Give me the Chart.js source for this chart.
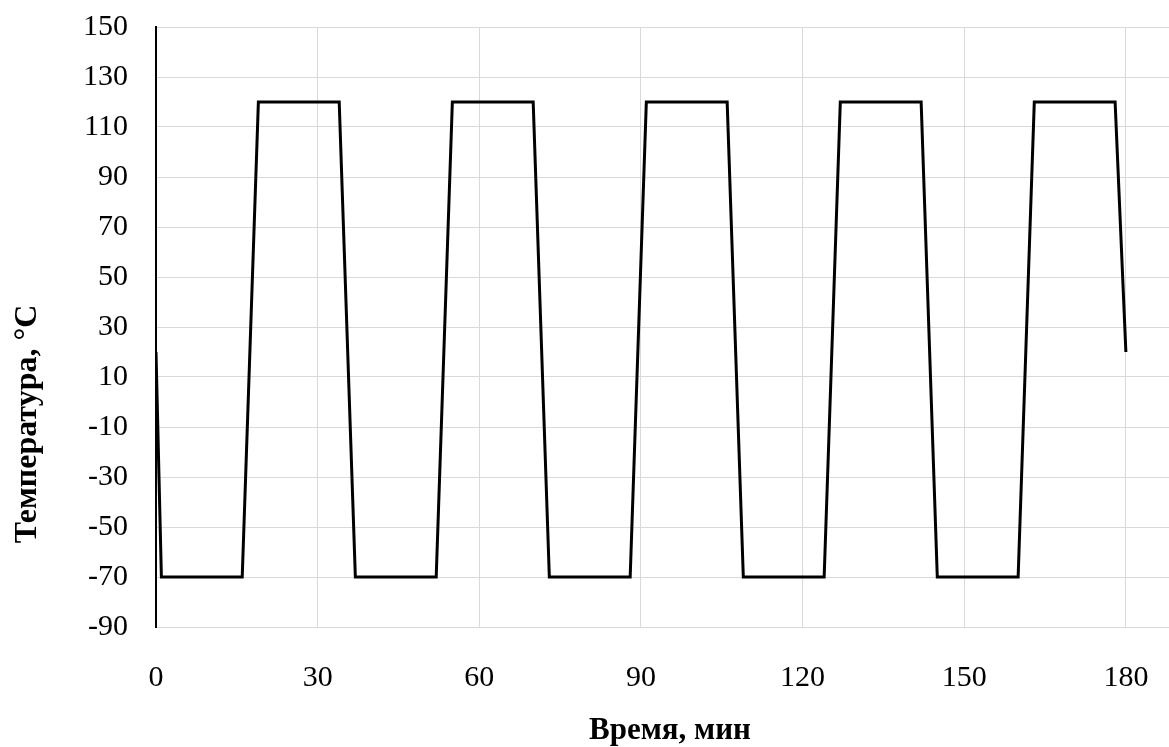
<!DOCTYPE html>
<html>
<head>
<meta charset="utf-8">
<script src="https://cdn.jsdelivr.net/npm/chart.js@4.4.0/dist/chart.umd.min.js"></script>
<style>
html,body{margin:0;padding:0;background:#fff;}
canvas{display:block;}
</style>
</head>
<body>
<canvas id="c" width="1169" height="747"></canvas>
<script>
// Time, min
const timeMin = [0, 1, 16, 19, 34, 37, 52, 55, 70, 73, 88, 91, 106, 109, 124, 127, 142, 145, 160, 163, 178, 180];
// Temperature, °C
const tempC = [20, -70, -70, 120, 120, -70, -70, 120, 120, -70, -70, 120, 120, -70, -70, 120, 120, -70, -70, 120, 120, 20];
const xTicks = [0, 30, 60, 90, 120, 150, 180];
const yTicks = [-90, -70, -50, -30, -10, 10, 30, 50, 70, 90, 110, 130, 150];
const xTitle = 'Время, мин';
const yTitle = 'Температура, °С';

const points = timeMin.map((t, i) => ({x: t, y: tempC[i]}));
const serif = '"Liberation Serif", "Times New Roman", serif';
const gridCol = '#d9d9d9';

const titles = {
  id: 'titles',
  afterDraw(chart) {
    const ctx = chart.ctx;
    ctx.save();
    ctx.fillStyle = '#000';
    ctx.textAlign = 'center';
    ctx.textBaseline = 'middle';
    ctx.font = 'bold 31px ' + serif;
    ctx.fillText(xTitle, 670, 731);
    ctx.font = 'bold 32px ' + serif;
    ctx.translate(28, 424);
    ctx.rotate(-Math.PI / 2);
    ctx.fillText(yTitle, 0, 0);
    ctx.restore();
  }
};

new Chart(document.getElementById('c'), {
  type: 'scatter',
  data: {
    datasets: [{
      data: points,
      showLine: true,
      borderColor: '#000',
      borderWidth: 3,
      pointRadius: 0,
      tension: 0,
      fill: false
    }]
  },
  options: {
    responsive: false,
    animation: false,
    layout: {padding: {top: 27, right: 0, left: 0, bottom: 0}},
    plugins: {legend: {display: false}, tooltip: {enabled: false}},
    scales: {
      x: {
        type: 'linear',
        min: 0,
        max: 188,
        afterBuildTicks(scale) { scale.ticks = xTicks.map(v => ({value: v})); },
        afterFit(scale) { scale.height = 120; scale.paddingLeft = 0; scale.paddingRight = 0; },
        grid: {color: gridCol, lineWidth: 1, drawTicks: false},
        border: {color: gridCol, width: 1},
        ticks: {font: {family: serif, size: 30}, color: '#000', padding: 33, maxRotation: 0}
      },
      y: {
        type: 'linear',
        min: -90,
        max: 150,
        afterBuildTicks(scale) { scale.ticks = yTicks.map(v => ({value: v})); },
        afterFit(scale) { scale.width = 156; scale.paddingTop = 0; scale.paddingBottom = 0; },
        grid: {color: gridCol, lineWidth: 1, drawTicks: false},
        border: {color: '#000', width: 2},
        ticks: {font: {family: serif, size: 30}, color: '#000', padding: 28}
      }
    }
  },
  plugins: [titles]
});
</script>
</body>
</html>
